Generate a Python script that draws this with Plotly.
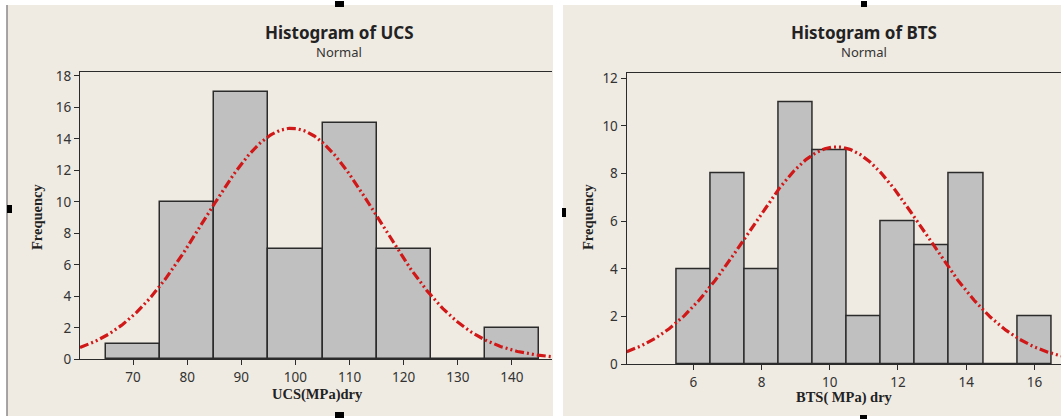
import numpy as np
import plotly.graph_objects as go

# ---------------- data ----------------
ucs_bins = [70, 80, 90, 100, 110, 120, 130, 140]
ucs_counts = [1, 10, 17, 7, 15, 7, 0, 2]
ucs_width = 10
ucs_mean = 99.3
ucs_std = 16.05

bts_bins = [6, 7, 8, 9, 10, 11, 12, 13, 14, 15, 16]
bts_counts = [4, 8, 4, 11, 9, 2, 6, 5, 8, 0, 2]
bts_width = 1
bts_mean = 10.2
bts_std = 2.58

ucs_xticks = [70, 80, 90, 100, 110, 120, 130, 140]
ucs_yticks = [0, 2, 4, 6, 8, 10, 12, 14, 16, 18]
bts_xticks = [6, 8, 10, 12, 14, 16]
bts_yticks = [0, 2, 4, 6, 8, 10, 12]

W, H = 1061, 419
BEIGE = "#EFEBE2"
BAR = "#C0C0C0"
EDGE = "#2b2b2b"
RED = "#D01818"
TXT = "#333333"
DASH = "9px,3px,2px,3px,2px,3px"


def px(x):
    return x / W


def py(y):
    return 1 - y / H


def normal_curve(counts, width, mean, std, lo, hi):
    n = sum(counts)
    xs = np.linspace(lo, hi, 400)
    ys = n * width / (std * np.sqrt(2 * np.pi)) * np.exp(-0.5 * ((xs - mean) / std) ** 2)
    return xs, ys


ucs_xrange = [60.2, 147.4]
ucs_yrange = [0, 18.24]
bts_xrange = [4.047, 16.78]
bts_yrange = [0, 12.21]

fig = go.Figure()

fig.add_trace(go.Bar(x=ucs_bins, y=ucs_counts, width=ucs_width,
                     marker=dict(color=BAR, line=dict(color=EDGE, width=1.5)),
                     xaxis="x", yaxis="y", showlegend=False))
cx, cy = normal_curve(ucs_counts, ucs_width, ucs_mean, ucs_std, *ucs_xrange)
fig.add_trace(go.Scatter(x=cx, y=cy, mode="lines",
                         line=dict(color=RED, width=3.2, dash=DASH),
                         xaxis="x", yaxis="y", showlegend=False))

fig.add_trace(go.Bar(x=bts_bins, y=bts_counts, width=bts_width,
                     marker=dict(color=BAR, line=dict(color=EDGE, width=1.5)),
                     xaxis="x2", yaxis="y2", showlegend=False))
cx2, cy2 = normal_curve(bts_counts, bts_width, bts_mean, bts_std, *bts_xrange)
fig.add_trace(go.Scatter(x=cx2, y=cy2, mode="lines",
                         line=dict(color=RED, width=3.2, dash=DASH),
                         xaxis="x2", yaxis="y2", showlegend=False))

tickfont = dict(family="Noto Sans, DejaVu Sans, sans-serif", size=13.5, color=TXT)
axcommon = dict(showgrid=False, zeroline=False, showline=True, linecolor=EDGE,
                linewidth=1.3, ticks="outside", ticklen=5, tickcolor=EDGE,
                tickwidth=1.2, tickfont=tickfont, fixedrange=True, automargin=False)

fig.update_layout(
    width=W, height=H,
    autosize=False,
    margin=dict(l=0, r=0, t=0, b=0, pad=0),
    paper_bgcolor="white",
    plot_bgcolor="white",
    bargap=0,
    xaxis=dict(domain=[px(80), px(552)], range=ucs_xrange, tickvals=ucs_xticks,
               anchor="y", mirror=True, **axcommon),
    yaxis=dict(domain=[py(359.3), py(72)], range=ucs_yrange, tickvals=ucs_yticks,
               anchor="x", **axcommon),
    xaxis2=dict(domain=[px(626.7), 1.0], range=bts_xrange, tickvals=bts_xticks,
                anchor="y2", mirror=True, **axcommon),
    yaxis2=dict(domain=[py(364.3), py(73.3)], range=bts_yrange, tickvals=bts_yticks,
                anchor="x2", **axcommon),
)

shapes = [
    # panels
    dict(type="rect", xref="paper", yref="paper", x0=px(7), x1=px(553), y0=py(416), y1=py(5),
         fillcolor=BEIGE, line=dict(width=0), layer="below"),
    dict(type="rect", xref="paper", yref="paper", x0=px(563), x1=1.0, y0=py(416), y1=py(5),
         fillcolor=BEIGE, line=dict(width=0), layer="below"),
    dict(type="line", xref="paper", yref="paper", x0=px(7), x1=px(7), y0=py(416), y1=py(5),
         line=dict(color="#8a8a8a", width=1.5), layer="below"),
    # selection handles
    dict(type="rect", xref="paper", yref="paper", x0=px(7), x1=px(12), y0=py(213), y1=py(205),
         fillcolor="black", line=dict(width=0)),
    dict(type="rect", xref="paper", yref="paper", x0=px(335), x1=px(344), y0=py(7), y1=py(1),
         fillcolor="black", line=dict(width=0)),
    dict(type="rect", xref="paper", yref="paper", x0=px(335), x1=px(344), y0=py(418), y1=py(412),
         fillcolor="black", line=dict(width=0)),
    dict(type="rect", xref="paper", yref="paper", x0=px(562), x1=px(566), y0=py(217), y1=py(208),
         fillcolor="black", line=dict(width=0)),
    dict(type="rect", xref="paper", yref="paper", x0=px(861), x1=px(867), y0=py(7), y1=py(1),
         fillcolor="black", line=dict(width=0)),
    dict(type="rect", xref="paper", yref="paper", x0=px(860), x1=px(867), y0=py(419), y1=py(415),
         fillcolor="black", line=dict(width=0)),
]
fig.update_layout(shapes=shapes)

title_font = dict(family="Noto Sans, DejaVu Sans, sans-serif", size=17, color="#222222")
sub_font = dict(family="Noto Sans, DejaVu Sans, sans-serif", size=13, color="#333333")
lab_font = dict(family="Liberation Serif, Times New Roman, serif", size=14.5, color="#222222")

ann = []
for cxp, title in [(339, "<b>Histogram of UCS</b>"), (864, "<b>Histogram of BTS</b>")]:
    ann.append(dict(x=px(cxp), y=py(33), xref="paper", yref="paper", text=title,
                    showarrow=False, font=title_font, xanchor="center", yanchor="middle"))
    ann.append(dict(x=px(cxp), y=py(52), xref="paper", yref="paper", text="Normal",
                    showarrow=False, font=sub_font, xanchor="center", yanchor="middle"))
ann.append(dict(x=px(317), y=py(394), xref="paper", yref="paper", text="<b>UCS(MPa)dry</b>",
                showarrow=False, font=lab_font, xanchor="center", yanchor="middle"))
ann.append(dict(x=px(844), y=py(397), xref="paper", yref="paper", text="<b>BTS( MPa) dry</b>",
                showarrow=False, font=lab_font, xanchor="center", yanchor="middle"))
ann.append(dict(x=px(37), y=py(217), xref="paper", yref="paper", text="<b>Frequency</b>",
                showarrow=False, font=lab_font, textangle=-90, xanchor="center", yanchor="middle"))
ann.append(dict(x=px(588), y=py(217), xref="paper", yref="paper", text="<b>Frequency</b>",
                showarrow=False, font=lab_font, textangle=-90, xanchor="center", yanchor="middle"))
fig.update_layout(annotations=ann)

fig.write_html(
    "out.html",
    config={"responsive": False, "displayModeBar": False},
    post_script="document.body.style.margin='0';document.body.style.padding='0';"
                "document.body.style.overflow='hidden';",
)
